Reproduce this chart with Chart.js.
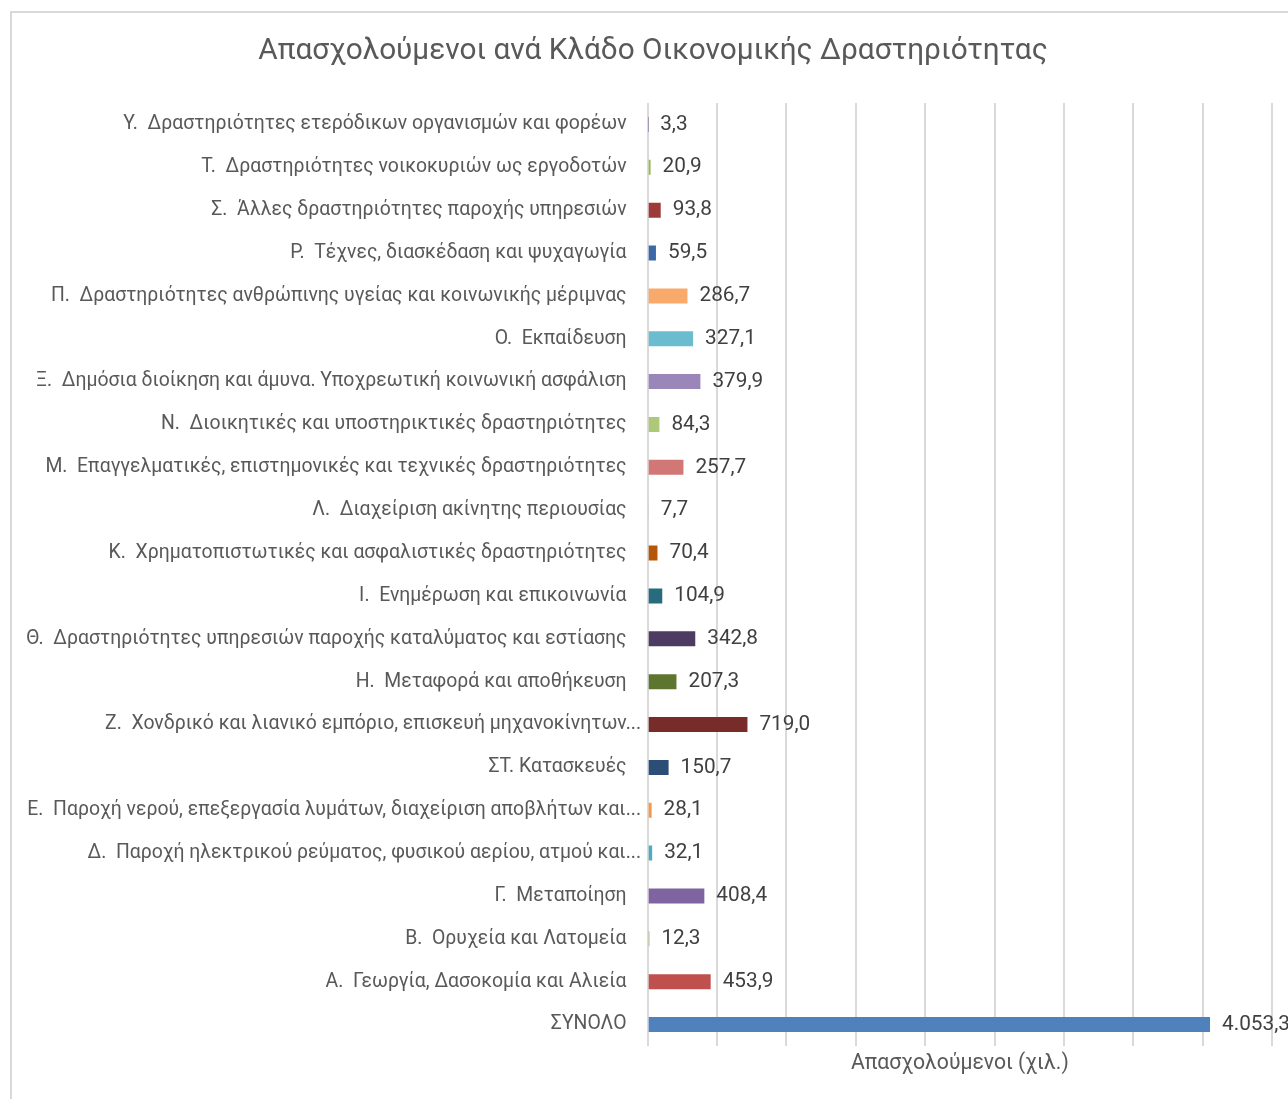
<!DOCTYPE html>
<html>
<head>
<meta charset="utf-8">
<script src="https://cdn.jsdelivr.net/npm/chart.js"></script>
<style>
html,body{margin:0;padding:0;background:#ffffff;overflow:hidden;width:1288px;height:1099px;}
#box{position:absolute;left:10px;top:11px;width:1300px;height:1110px;border:2px solid #D9D9D9;box-sizing:border-box;}
#wrap{position:absolute;left:11px;top:12px;width:1284px;height:1087px;}
</style>
</head>
<body>
<div id="box"></div>
<div id="wrap"><canvas id="c"></canvas></div>
<script>
const chartTitle = 'Απασχολούμενοι ανά Κλάδο Οικονομικής Δραστηριότητας';
const axisTitle = 'Απασχολούμενοι (χιλ.)';
const categories = [
  'Υ.  Δραστηριότητες ετερόδικων οργανισμών και φορέων   ',
  'Τ.  Δραστηριότητες νοικοκυριών ως εργοδοτών   ',
  'Σ.  Άλλες δραστηριότητες παροχής υπηρεσιών   ',
  'Ρ.  Τέχνες, διασκέδαση και ψυχαγωγία   ',
  'Π.  Δραστηριότητες ανθρώπινης υγείας και κοινωνικής μέριμνας   ',
  'Ο.  Εκπαίδευση   ',
  'Ξ.  Δημόσια διοίκηση και άμυνα. Υποχρεωτική κοινωνική ασφάλιση   ',
  'Ν.  Διοικητικές και υποστηρικτικές δραστηριότητες   ',
  'Μ.  Επαγγελματικές, επιστημονικές και τεχνικές δραστηριότητες   ',
  'Λ.  Διαχείριση ακίνητης περιουσίας   ',
  'Κ.  Χρηματοπιστωτικές και ασφαλιστικές δραστηριότητες   ',
  'Ι.  Ενημέρωση και επικοινωνία   ',
  'Θ.  Δραστηριότητες υπηρεσιών παροχής καταλύματος και εστίασης   ',
  'Η.  Μεταφορά και αποθήκευση   ',
  'Ζ.  Χονδρικό και λιανικό εμπόριο, επισκευή μηχανοκίνητων...',
  'ΣΤ. Κατασκευές   ',
  'Ε.  Παροχή νερού, επεξεργασία λυμάτων, διαχείριση αποβλήτων και...',
  'Δ.  Παροχή ηλεκτρικού ρεύματος, φυσικού αερίου, ατμού και...',
  'Γ.  Μεταποίηση   ',
  'Β.  Ορυχεία και Λατομεία   ',
  'Α.  Γεωργία, Δασοκομία και Αλιεία   ',
  'ΣΥΝΟΛΟ   '
];
const values = [3.3, 20.9, 93.8, 59.5, 286.7, 327.1, 379.9, 84.3, 257.7, 7.7, 70.4, 104.9, 342.8, 207.3, 719.0, 150.7, 28.1, 32.1, 408.4, 12.3, 453.9, 4053.3];
const barColors = ['#7D60A0','#98B954','#9E3B38','#3C69A5','#F9A96A','#6CBCD0','#9A86B8','#ADC878','#D17775','#729ACA','#B65708','#276B7D','#4D3B62','#5E7530','#772C2A','#2C4D75','#F79646','#4BACC6','#8064A2','#9BBB59','#C0504D','#4F81BD'];
const axisMin = 0, axisMax = 4500, axisStep = 500;

function fmt(v){
  const parts = v.toFixed(1).split('.');
  const intPart = parts[0].replace(/\B(?=(\d{3})+(?!\d))/g, '.');
  return intPart + ',' + parts[1];
}

const FONT = 'Roboto';
function fitSize(text, target, family){
  const ctx = document.createElement('canvas').getContext('2d');
  ctx.font = '100px ' + family;
  return 100 * target / ctx.measureText(text).width;
}

function build(){
  const labelSize = fitSize(categories[16], 614, FONT);
  const valueSize = labelSize * 1.07;
  const titleSize = fitSize(chartTitle, 790, FONT);
  const axisSize = fitSize(axisTitle, 218, FONT);
  const textColor = '#595959';

  const chartTitlePlugin = {
    id: 'chartTitlePlugin',
    afterDraw(chart){
      const ctx = chart.ctx;
      ctx.save();
      ctx.font = titleSize + 'px ' + FONT;
      ctx.fillStyle = textColor;
      ctx.textAlign = 'center';
      ctx.textBaseline = 'middle';
      ctx.fillText(chartTitle, 642, 40);
      ctx.restore();
    }
  };

  const valueLabels = {
    id: 'valueLabels',
    afterDatasetsDraw(chart){
      const ctx = chart.ctx;
      const meta = chart.getDatasetMeta(0);
      ctx.save();
      ctx.font = valueSize + 'px ' + FONT;
      ctx.fillStyle = '#404040';
      ctx.textAlign = 'left';
      ctx.textBaseline = 'middle';
      meta.data.forEach((el, i) => {
        ctx.fillText(fmt(values[i]), el.x + 12, el.y);
      });
      ctx.restore();
    }
  };

  new Chart(document.getElementById('c'), {
    type: 'bar',
    data: {
      labels: categories,
      datasets: [{
        data: values,
        backgroundColor: barColors,
        borderWidth: 0,
        categoryPercentage: 1,
        barPercentage: 0.35
      }]
    },
    options: {
      indexAxis: 'y',
      responsive: true,
      maintainAspectRatio: false,
      animation: false,
      layout: { padding: { left: 0, right: 23, top: 91, bottom: 0 } },
      plugins: {
        legend: { display: false },
        tooltip: { enabled: false },
        title: { display: false }
      },
      scales: {
        x: {
          min: axisMin, max: axisMax,
          ticks: { display: false, stepSize: axisStep },
          grid: { color: '#D9D9D9', lineWidth: 2, drawTicks: false },
          border: { display: false },
          title: {
            display: true,
            text: axisTitle,
            color: textColor,
            font: { family: FONT, size: axisSize, lineHeight: 1.2 },
            padding: { top: 0, bottom: 35 - axisSize * 0.6 }
          },
          afterFit(scale){ scale.height = 53; }
        },
        y: {
          grid: { display: false, drawTicks: false },
          border: { display: false },
          ticks: {
            color: textColor,
            padding: 6.7,
            font: { family: FONT, size: labelSize },
            autoSkip: false
          },
          afterFit(scale){ scale.width = 636.7; }
        }
      }
    },
    plugins: [valueLabels, chartTitlePlugin]
  });
}
if (document.fonts && document.fonts.load) {
  document.fonts.load('20px ' + FONT, 'Αβγ').then(build, build);
} else { build(); }
</script>
</body>
</html>
